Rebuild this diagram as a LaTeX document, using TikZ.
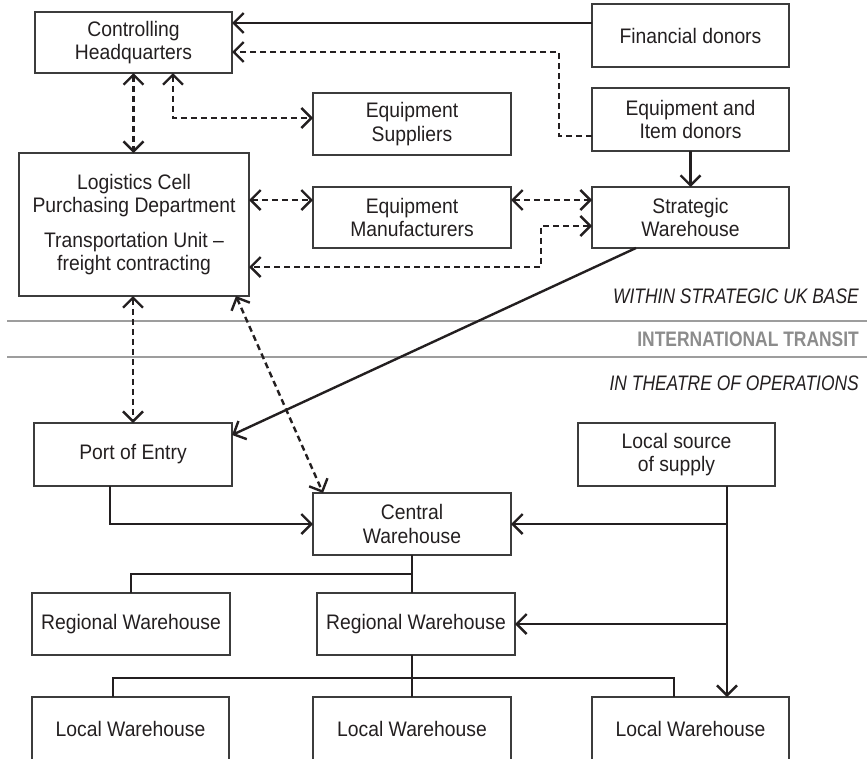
\documentclass[tikz,border=0pt]{standalone}
\usepackage{fontspec}
\setmainfont[FakeStretch=0.92]{Liberation Sans}
\newfontfamily\capsfont[FakeStretch=0.83]{Liberation Sans}
\usetikzlibrary{arrows.meta,calc}
\definecolor{ink}{HTML}{231F20}
\definecolor{boxline}{HTML}{3C3C3C}
\definecolor{bandgray}{HTML}{9D9D9D}
\definecolor{transitgray}{HTML}{8C8C8C}
\tikzset{
  >={Straight Barb[length=10pt,width=20pt]},
  box/.style={draw=boxline, line width=1.4pt, anchor=north west, inner sep=0pt, outer sep=0pt,
    align=center, text=ink, font=\fontsize{21}{23.5}\selectfont},
  link/.style={draw=ink, line width=2.4pt},
  dlink/.style={link, dash pattern=on 6pt off 4pt},
  band/.style={draw=bandgray, line width=1.8pt},
  caplabel/.style={anchor=base east, inner sep=0pt, font=\capsfont\fontsize{21}{23.5}\selectfont},
}
\begin{document}
\begin{tikzpicture}[x=1pt,y=-1pt]
\path[use as bounding box] (0,0) rectangle (867,758);
\clip (0,0) rectangle (867,758);

% band lines and labels
\draw[band] (7,321) -- (867,321);
\draw[band] (7,357) -- (867,357);
\node[caplabel, text=ink] (within) at (859,303) {\itshape WITHIN STRATEGIC UK BASE};
\node[caplabel, text=transitgray] (transit) at (859,346) {\bfseries INTERNATIONAL TRANSIT};
\node[caplabel, text=ink] (theatre) at (859,390) {\itshape IN THEATRE OF OPERATIONS};

% boxes
\node[box, minimum width=197pt, minimum height=61pt] (hq) at (35,12) {Controlling\\Headquarters};
\node[box, minimum width=197pt, minimum height=63pt] (fin) at (592,4) {Financial donors};
\node[box, minimum width=197pt, minimum height=63pt] (eid) at (592,88) {Equipment and\\Item donors};
\node[box, minimum width=198pt, minimum height=62pt] (sup) at (313,93) {Equipment\\Suppliers};
\node[box, minimum width=230pt, minimum height=143pt] (log) at (19,153)
  {Logistics Cell\\Purchasing Department\\[11pt]Transportation Unit –\\freight contracting};
\node[box, minimum width=198pt, minimum height=61pt] (man) at (313,187) {Equipment\\Manufacturers};
\node[box, minimum width=197pt, minimum height=61pt] (sw) at (592,187) {Strategic\\Warehouse};
\node[box, minimum width=198pt, minimum height=63pt] (port) at (34,423) {Port of Entry};
\node[box, minimum width=197pt, minimum height=63pt] (lss) at (578,423) {Local source\\of supply};
\node[box, minimum width=198pt, minimum height=62pt] (cw) at (313,493) {Central\\Warehouse};
\node[box, minimum width=198pt, minimum height=62pt] (rw1) at (32,593) {Regional Warehouse};
\node[box, minimum width=198pt, minimum height=62pt] (rw2) at (317,593) {Regional Warehouse};
\node[box, minimum width=197pt, minimum height=64pt] (lw1) at (32,697) {Local Warehouse};
\node[box, minimum width=198pt, minimum height=64pt] (lw2) at (313,697) {Local Warehouse};
\node[box, minimum width=197pt, minimum height=64pt] (lw3) at (592,697) {Local Warehouse};

% helper coordinates
\coordinate (y23) at (0,23);
\coordinate (b1) at (559,52);
\coordinate (b2) at (559,136);
\coordinate (s1) at (173,118);
\coordinate (y200) at (0,200);
\coordinate (m1) at (541,226);
\coordinate (m2) at (541,267);
\coordinate (d1) at (236,0);
\coordinate (d2) at (323,0);
\coordinate (p1) at (636,0);
\coordinate (p2) at (0,435);
\coordinate (e1) at (110,524);
\coordinate (v1) at (727,524);
\coordinate (v2) at (727,624);
\coordinate (c1) at (412,574);
\coordinate (r1) at (412,678);
\coordinate (l1) at (113,678);
\coordinate (l3) at (674,678);

% upper connectors
\draw[link,->] (fin.west |- y23) -- (hq.east |- y23);
\draw[dlink,->] (eid.west |- b2) -- (b2) -- (b1) -- (hq.east |- b1);
\draw[link,->] (eid.south) -- (sw.north);
\draw[dlink,<->] (hq.south) -- (hq.south |- log.north);
\draw[dlink,<->] (hq.south -| s1) -- (s1) -- (sup.west |- s1);
\draw[dlink,<->] (log.east |- y200) -- (man.west |- y200);
\draw[dlink,<->] (man.east |- y200) -- (sw.west |- y200);
\draw[dlink,<->] (sw.west |- m1) -- (m1) -- (m2) -- (log.east |- m2);
\draw[dlink,<->] (log.south -| port.north) -- (port.north);
\draw[dlink,<->] (log.south -| d1) -- (cw.north -| d2);
\draw[link,->] (sw.south -| p1) -- (port.east |- p2);

% lower connectors
\draw[link,->] (port.south -| e1) -- (e1) -- (cw.west |- e1);
\draw[link,->] (lss.south -| v1) -- (lw3.north -| v1);
\draw[link,->] (v1) -- (cw.east |- v1);
\draw[link,->] (v2) -- (rw2.east |- v2);
\draw[link] (cw.south) -- (cw.south |- rw2.north);
\draw[link] (c1) -| (rw1.north);
\draw[link] (rw2.south -| r1) -- (r1) -- (lw2.north -| r1);
\draw[link] (lw1.north -| l1) -- (l1) -- (l3) -- (lw3.north -| l3);
\end{tikzpicture}
\end{document}
